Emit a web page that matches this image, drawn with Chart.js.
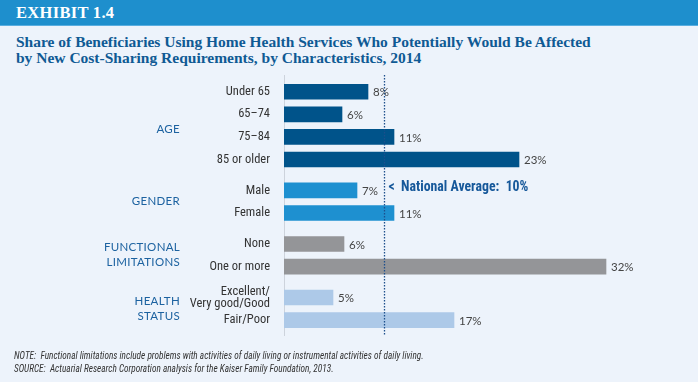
<!DOCTYPE html>
<html>
<head>
<meta charset="utf-8">
<script src="https://cdn.jsdelivr.net/npm/chart.js@4.4.1/dist/chart.umd.min.js"></script>
<style>
  html, body { margin: 0; padding: 0; }
  body { width: 698px; height: 382px; background: #edf3fb; position: relative; overflow: hidden; }
  #header { position: absolute; left: 0; top: 0; width: 698px; height: 25px; background: #1e8fcd; border-bottom: 1px solid #5aaee0; }
  #header span { position: absolute; left: 16px; top: 3px; font: bold 16.5px "Liberation Serif", serif; color: #fff; letter-spacing: 0.3px; }
  #title { position: absolute; left: 16px; top: 34px; font: bold 15.5px/16px "Liberation Serif", serif; color: #0f5a94; }
  #notes { position: absolute; left: 14px; top: 349px; font: italic 11px/13px "Roboto Condensed", "Liberation Sans", sans-serif; color: #333; transform: scaleX(0.845); transform-origin: left top; white-space: nowrap; }
  #wrap { position: absolute; left: 0; top: 0; width: 698px; height: 382px; }
</style>
</head>
<body>
<div id="header"><span>EXHIBIT 1.4</span></div>
<div id="title">Share of Beneficiaries Using Home Health Services Who Potentially Would Be Affected<br>by New Cost-Sharing Requirements, by Characteristics, 2014</div>
<div id="wrap"><canvas id="grafico" width="698" height="382"></canvas></div>
<div id="notes">NOTE:&nbsp; Functional limitations include problems with activities of daily living or instrumental activities of daily living.<br>SOURCE:&nbsp; Actuarial Research Corporation analysis for the Kaiser Family Foundation, 2013.</div>
<script>
const grupos = ["AGE", "GENDER", "FUNCTIONAL\nLIMITATIONS", "HEALTH\nSTATUS"];
const categorias = [
  ["Under 65", "65\u201374", "75\u201384", "85 or older"],
  ["Male", "Female"],
  ["None", "One or more"],
  ["Excellent/\nVery good/Good", "Fair/Poor"]
];
const valores = [
  [8.4, 5.8, 11, 23.5],
  [7.3, 11],
  [6, 32.2],
  [4.9, 17]
];
const rotulos = [
  ["8%", "6%", "11%", "23%"],
  ["7%", "11%"],
  ["6%", "32%"],
  ["5%", "17%"]
];
const coresGrupo = ["#00538a", "#1e90d0", "#949598", "#adc9e8"];
const mediaNacional = 10;

// uma linha por barra, com um espaço extra entre os grupos
const GAP = 0.37;
const pontos = [];
const labels = [];
const textos = [];
const cores = [];
const centros = [];
let pos = 0;
grupos.forEach((g, gi) => {
  const inicio = pos;
  categorias[gi].forEach((c, ci) => {
    pontos.push({ x: valores[gi][ci], y: pos });
    labels.push(c.split("\n"));
    textos.push(rotulos[gi][ci]);
    cores.push(coresGrupo[gi]);
    pos += 1;
  });
  centros.push((inicio + pos - 1) / 2);
  pos += GAP;
});
const posicoes = pontos.map(p => p.y);

const extras = {
  id: "extras",
  afterDatasetsDraw(chart) {
    const ctx = chart.ctx;
    const area = chart.chartArea;
    const xs = chart.scales.x;
    const ys = chart.scales.y;
    const meta = chart.getDatasetMeta(0);

    // rótulos de valor
    ctx.save();
    ctx.font = "11.5px Lato, sans-serif";
    ctx.fillStyle = "#444";
    ctx.textBaseline = "middle";
    ctx.textAlign = "left";
    meta.data.forEach((bar, i) => {
      ctx.fillText(textos[i], bar.x + 5, bar.y + 1);
    });

    // linha da média nacional
    const xm = Math.round(xs.getPixelForValue(mediaNacional)) + 0.5;
    ctx.strokeStyle = "#1d4f8c";
    ctx.lineWidth = 1.3;
    ctx.setLineDash([1.5, 1.5]);
    ctx.beginPath();
    ctx.moveTo(xm, area.top);
    ctx.lineTo(xm, area.bottom);
    ctx.stroke();
    ctx.setLineDash([]);

    ctx.font = "bold 13.8px 'Roboto Condensed', sans-serif";
    ctx.fillStyle = "#16589a";
    ctx.fillText("<  National Average:  10%", xm + 4, ys.getPixelForValue(posicoes[4]) - 3);

    // nomes dos grupos
    ctx.font = "11.5px Lato, sans-serif";
    ctx.letterSpacing = "0.3px";
    ctx.fillStyle = "#1c62a0";
    ctx.textAlign = "right";
    grupos.forEach((g, gi) => {
      const linhas = g.split("\n");
      const yc = ys.getPixelForValue(centros[gi]);
      linhas.forEach((l, li) => {
        ctx.fillText(l, 180, yc + (li - (linhas.length - 1) / 2) * 15 + (gi === 0 ? 4 : 0));
      });
    });
    ctx.restore();
  }
};

new Chart(document.getElementById("grafico"), {
  type: "bar",
  data: {
    datasets: [{
      data: pontos,
      backgroundColor: cores,
      barThickness: 15
    }]
  },
  options: {
    indexAxis: "y",
    responsive: false,
    animation: false,
    layout: { padding: { top: 75, bottom: 47, left: 0, right: 14 } },
    plugins: { legend: { display: false }, tooltip: { enabled: false } },
    scales: {
      x: { type: "linear", display: false, min: 0, max: 40 },
      y: {
        type: "linear",
        reverse: true,
        offset: false,
        min: -0.74,
        max: posicoes[posicoes.length - 1] + 0.66,
        grid: { display: false },
        border: { display: true, color: "#cdd3dc", width: 1 },
        afterFit(scale) { scale.width = 284; },
        afterBuildTicks(scale) { scale.ticks = posicoes.map(v => ({ value: v })); },
        ticks: {
          autoSkip: false,
          padding: 6,
          color: "#333",
          font: { family: "'Roboto Condensed', sans-serif", size: 12.5, lineHeight: 0.96 },
          callback: (v, i) => labels[i]
        }
      }
    }
  },
  plugins: [extras]
});
</script>
</body>
</html>
